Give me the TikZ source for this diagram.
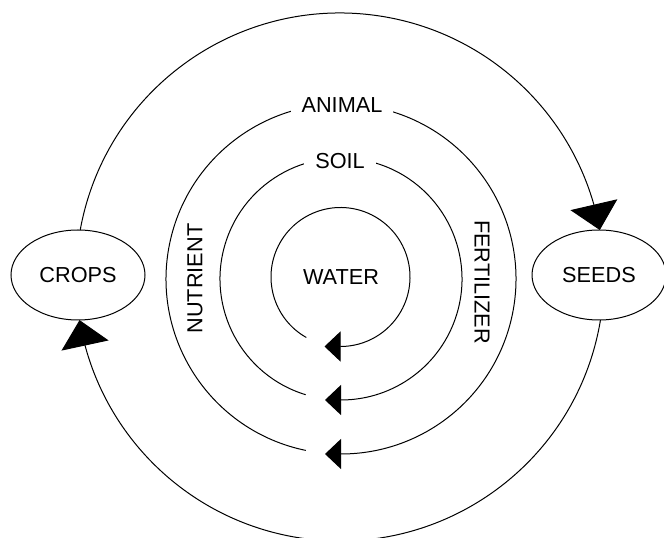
\documentclass[tikz,border=0pt]{standalone}
\usepackage{fontspec}
\setmainfont{Liberation Sans}
\usetikzlibrary{arrows.meta,shapes.geometric,bending}
\begin{document}
\begin{tikzpicture}[x=1pt,y=1pt, line width=1pt,
  every node/.style={font=\fontsize{21.7}{26}\selectfont},
  oval/.style={draw, ellipse, fill=white, minimum width=134pt, minimum height=90pt, inner sep=0pt},
  gaplabel/.style={fill=white, inner xsep=11pt, inner ysep=4pt},
  bigtip/.style={-{Triangle[length=26pt,width=48pt]}},
  smalltip/.style={-{Triangle[length=16pt,width=30pt]}}]
\useasboundingbox (0,0) rectangle (664,538);
\clip (0,0) rectangle (664,538);
\coordinate (o) at (340,261);
\coordinate (cw) at (340.5,261);
\coordinate (cs) at (341,259);
\coordinate (ca) at (341,259);
% ellipses
\node[oval] (crops) at (78,263) {CROPS};
\node[oval] (seeds) at (599,263) {SEEDS};
% outer cycle
\draw[bigtip] (o) ++(169.75:264) arc[start angle=169.75, end angle=10.25, radius=264];
\draw[bigtip] (o) ++(-9.4:264) arc[start angle=-9.4, end angle=-170.6, radius=264];
% inner cycles
\draw[smalltip] (ca) ++(258.4:175) arc[start angle=258.4, end angle=-90, radius=175] -- ++(-16,0);
\draw[smalltip] (cs) ++(253:121) arc[start angle=253, end angle=-90, radius=121] -- ++(-16,0);
\draw[smalltip] (cw) ++(240.5:69.5) arc[start angle=240.5, end angle=-90, radius=69.5] -- ++(-16,0);
% labels
\node[gaplabel] (animal) at (342,433) {ANIMAL};
\node[gaplabel] (soil) at (340,376.5) {SOIL};
\node (water) at (341,261) {WATER};
\node[rotate=90] (nutrient) at (195,259.5) {NUTRIENT};
\node[rotate=-90] (fertilizer) at (482,256) {FERTILIZER};
\end{tikzpicture}
\end{document}
